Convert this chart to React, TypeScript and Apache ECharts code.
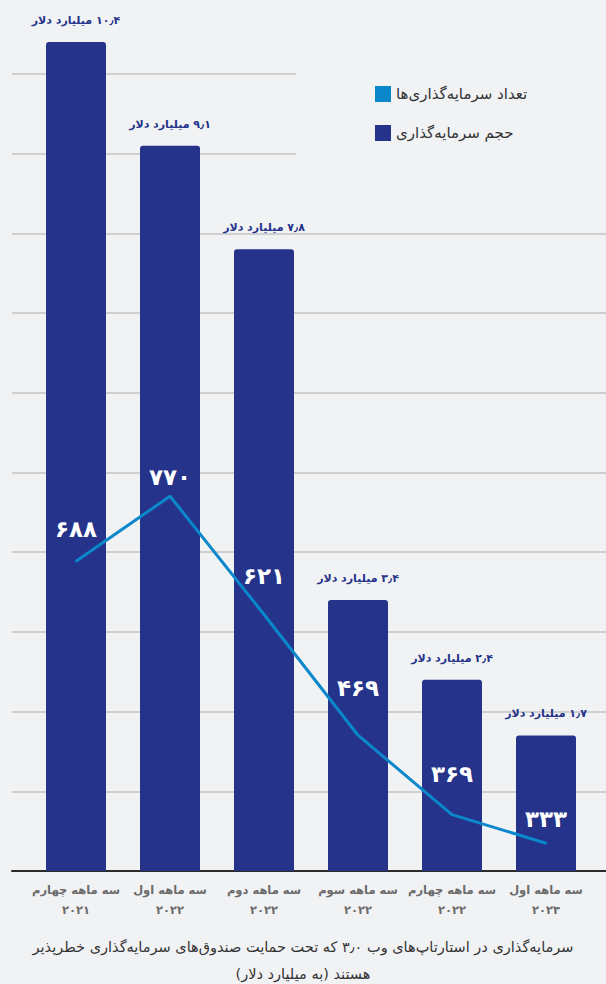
import React, { useEffect, useRef } from "react";
import * as echarts from "echarts";

const quarters = ["سه ماهه چهارم", "سه ماهه اول", "سه ماهه دوم", "سه ماهه سوم", "سه ماهه چهارم", "سه ماهه اول"];
const years = ["2021", "2022", "2022", "2022", "2022", "2023"];
const volumes = [10.4, 9.1, 7.8, 3.4, 2.4, 1.7];
const counts = [688, 770, 621, 469, 369, 333];
const countLabelLift = [20, 7, 26, 35, 28, 12];

const LINE_NAME = "تعداد سرمایه‌گذاری‌ها";
const BAR_NAME = "حجم سرمایه‌گذاری";
const CAPTION_1 = "سرمایه‌گذاری در استارتاپ‌های وب ۳٫۰ که تحت حمایت صندوق‌های سرمایه‌گذاری خطرپذیر";
const CAPTION_2 = "هستند (به میلیارد دلار)";

const RLM = "\u200F";
const FONT = "'DejaVu Sans', 'Noto Sans', sans-serif";
const NAVY = "#25338a";
const BLUE = "#0a88cb";
const BG = "#f1f2f4";

const toFa = (s: string | number) =>
  String(s).replace(/[0-9]/g, (d) => "۰۱۲۳۴۵۶۷۸۹"[Number(d)]).replace(/\./g, "٫");

export default function App() {
  const ref = useRef<HTMLDivElement>(null);
  useEffect(() => {
    if (!ref.current) return;
    const chart = echarts.init(ref.current, null, { renderer: "svg" });
    const categories = quarters.map((q, i) => q + "\n" + toFa(years[i]));
    chart.setOption({
      animation: false,
      backgroundColor: BG,
      textStyle: { fontFamily: FONT },
      title: {
        text: RLM + CAPTION_1 + RLM + "\n" + RLM + CAPTION_2 + RLM,
        left: "center",
        top: 933,
        padding: 0,
        textStyle: { fontFamily: FONT, fontSize: 14.5, fontWeight: "normal", color: "#333", lineHeight: 27 },
      },
      legend: {
        orient: "vertical",
        left: 370,
        top: 81,
        itemWidth: 16,
        itemHeight: 16,
        itemGap: 23,
        icon: "rect",
        textStyle: { fontFamily: FONT, fontSize: 15, color: "#333" },
        data: [
          { name: LINE_NAME, itemStyle: { color: BLUE } },
          { name: BAR_NAME, itemStyle: { color: NAVY } },
        ],
      },
      graphic: [
        {
          type: "rect",
          z: 1,
          shape: { x: 296, y: 60, width: 310, height: 105 },
          style: { fill: BG },
        },
      ],
      grid: [
        { left: 12, right: 0, top: 42, bottom: 113 },
        { left: 29, right: 13, top: 42, bottom: 113 },
      ],
      xAxis: [
        {
          gridIndex: 0,
          type: "value",
          min: 0,
          max: 1,
          axisLine: { show: true, lineStyle: { color: "#2b2b2b", width: 2 } },
          axisTick: { show: false },
          axisLabel: { show: false },
          splitLine: { show: false },
        },
        {
          gridIndex: 1,
          type: "category",
          data: categories,
          axisLine: { show: false },
          axisTick: { show: false },
          axisLabel: {
            interval: 0,
            margin: 9,
            color: "#6b6b6b",
            fontFamily: FONT,
            fontSize: 11.5,
            fontWeight: "bold",
            lineHeight: 20,
          },
        },
      ],
      yAxis: [
        {
          gridIndex: 0,
          type: "value",
          min: 0,
          max: 10.4,
          interval: 1,
          axisLabel: { show: false },
          axisLine: { show: false },
          axisTick: { show: false },
          splitLine: {
            show: true,
            showMinLine: false,
            showMaxLine: false,
            lineStyle: { color: "#c3c3c3", width: 1.5 },
          },
        },
        { gridIndex: 1, type: "value", min: 0, max: 10.4, show: false },
        { gridIndex: 1, type: "value", min: 298, max: 1342, show: false },
      ],
      series: [
        {
          name: BAR_NAME,
          type: "bar",
          xAxisIndex: 1,
          yAxisIndex: 1,
          data: volumes,
          barWidth: 60,
          itemStyle: { color: NAVY, borderRadius: [3, 3, 0, 0] },
          label: {
            show: true,
            position: "top",
            distance: 16,
            color: NAVY,
            fontFamily: FONT,
            fontSize: 11,
            fontWeight: "bold",
            formatter: (p: any) => RLM + toFa(p.value) + " میلیارد دلار",
          },
        },
        {
          name: LINE_NAME,
          type: "line",
          xAxisIndex: 1,
          yAxisIndex: 2,
          data: counts.map((v, i) => ({ value: v, label: { distance: countLabelLift[i] } })),
          symbol: "circle",
          symbolSize: 2,
          itemStyle: { color: BLUE },
          lineStyle: { color: BLUE, width: 3 },
          label: {
            show: true,
            position: "top",
            color: "#fff",
            fontFamily: FONT,
            fontSize: 23,
            fontWeight: "bold",
            formatter: (p: any) => toFa(p.value),
          },
        },
      ],
    });
    return () => chart.dispose();
  }, []);
  return <div ref={ref} style={{ position: "fixed", left: 0, top: 0, width: 606, height: 984 }} />;
}
